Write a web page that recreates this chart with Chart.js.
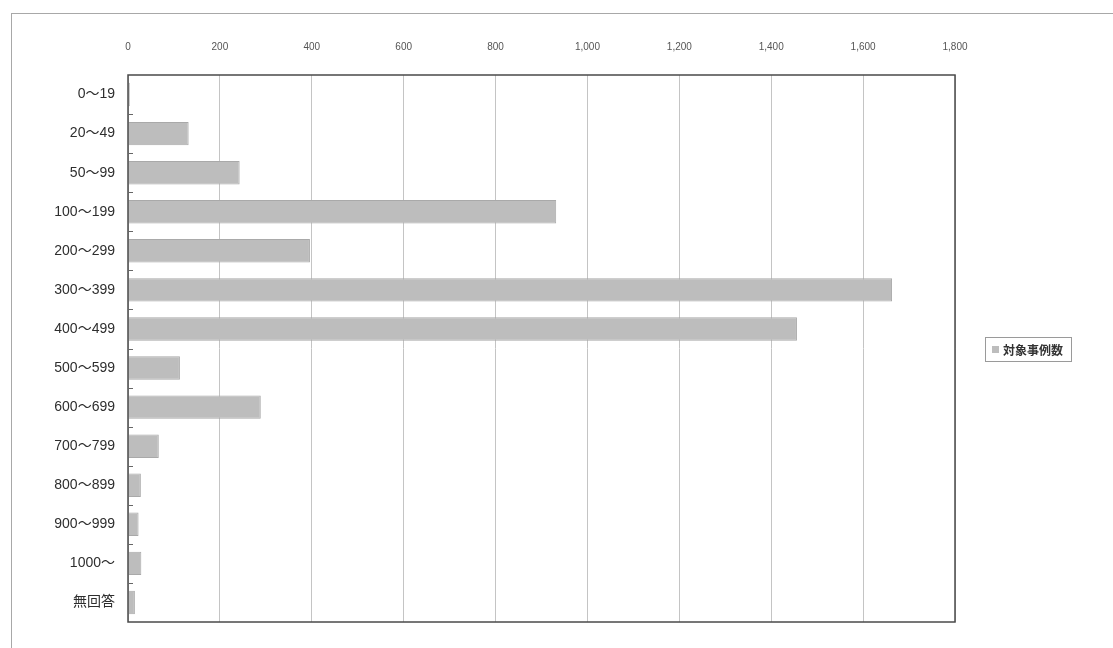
<!DOCTYPE html>
<html lang="ja">
<head>
<meta charset="UTF-8">
<title>対象事例数</title>
<script src="https://cdn.jsdelivr.net/npm/chart.js"></script>
<style>
  html, body { margin: 0; padding: 0; background: #fff; overflow: hidden; }
  #frame { position: absolute; left: 11px; top: 13px; width: 1200px; height: 700px; border: 1px solid #a8a8a8; }
  #wrap { position: absolute; left: 0; top: 0; width: 1113px; height: 648px; }
</style>
</head>
<body>
<div id="frame"></div>
<div id="wrap"><canvas id="myChart"></canvas></div>
<script>
    // data
    var categories = ['0～19', '20～49', '50～99', '100～199', '200～299', '300～399', '400～499',
                      '500～599', '600～699', '700～799', '800～899', '900～999', '1000～', '無回答'];
    var case_counts = [4, 132, 243, 932, 396, 1663, 1456, 113, 289, 67, 28, 23, 29, 15];
    var series_name = '対象事例数';
    var x_min = 0, x_max = 1800, x_step = 200;

    var bar_fill = '#bdbdbd';
    var bar_edge = '#a9a9a9';

    // plot frame, inner category ticks and the boxed legend on the right
    var framePlugin = {
        id: 'framePlugin',
        afterDraw: function(chart) {
            var ctx = chart.ctx;
            var a = chart.chartArea;
            ctx.save();
            ctx.strokeStyle = '#4a4a4a';
            ctx.lineWidth = 1.5;
            ctx.strokeRect(a.left, a.top, a.right - a.left, a.bottom - a.top);

            // small marks on the category axis, between categories
            var n = chart.data.labels.length;
            var step = (a.bottom - a.top) / n;
            ctx.lineWidth = 1;
            ctx.strokeStyle = '#666';
            for (var i = 1; i < n; i++) {
                var y = Math.round(a.top + i * step) + 0.5;
                ctx.beginPath();
                ctx.moveTo(a.left, y);
                ctx.lineTo(a.left + 5, y);
                ctx.stroke();
            }

            // legend
            var ds = chart.data.datasets[0];
            ctx.font = 'bold 12px "Noto Sans CJK JP", sans-serif';
            var tw = ctx.measureText(ds.label).width;
            var bx = a.right + 30, bh = 24;
            var by = Math.round((a.top + a.bottom) / 2 - bh / 2);
            var bw = tw + 26;
            ctx.fillStyle = '#fff';
            ctx.fillRect(bx, by, bw, bh);
            ctx.strokeStyle = '#9a9a9a';
            ctx.lineWidth = 1;
            ctx.strokeRect(bx + 0.5, by + 0.5, bw, bh);
            ctx.fillStyle = ds.backgroundColor;
            ctx.fillRect(bx + 7, by + bh / 2 - 3, 7, 7);
            ctx.fillStyle = '#333';
            ctx.textBaseline = 'middle';
            ctx.fillText(ds.label, bx + 18, by + bh / 2 + 1);
            ctx.restore();
        }
    };

    var ctx = document.getElementById('myChart');
    var chart = new Chart(ctx, {
        type: 'bar',
        data: {
            labels: categories,
            datasets: [{
                label: series_name,
                data: case_counts,
                backgroundColor: bar_fill,
                borderColor: bar_edge,
                borderWidth: 1,
                barPercentage: 0.6,
                categoryPercentage: 1.0
            }]
        },
        options: {
            indexAxis: 'y',
            responsive: true,
            maintainAspectRatio: false,
            animation: false,
            layout: {
                padding: { left: 0, right: 158, top: 0, bottom: 26 }
            },
            scales: {
                x: {
                    position: 'top',
                    min: x_min,
                    max: x_max,
                    ticks: {
                        stepSize: x_step,
                        color: '#555',
                        padding: 22,
                        font: { size: 10, family: 'Arial, "Liberation Sans", sans-serif' }
                    },
                    grid: {
                        color: '#c4c4c4',
                        drawTicks: false
                    },
                    border: { display: false },
                    afterFit: function(scale) { scale.height = 75; }
                },
                y: {
                    ticks: {
                        color: '#2e2e2e',
                        padding: 5,
                        font: { size: 14, family: 'Arial, "Liberation Sans", "Noto Sans CJK JP", sans-serif' }
                    },
                    grid: { display: false },
                    border: { display: false },
                    afterFit: function(scale) { scale.width = 128; }
                }
            },
            plugins: {
                legend: { display: false },
                tooltip: { enabled: false }
            }
        },
        plugins: [framePlugin]
    });
</script>
</body>
</html>
